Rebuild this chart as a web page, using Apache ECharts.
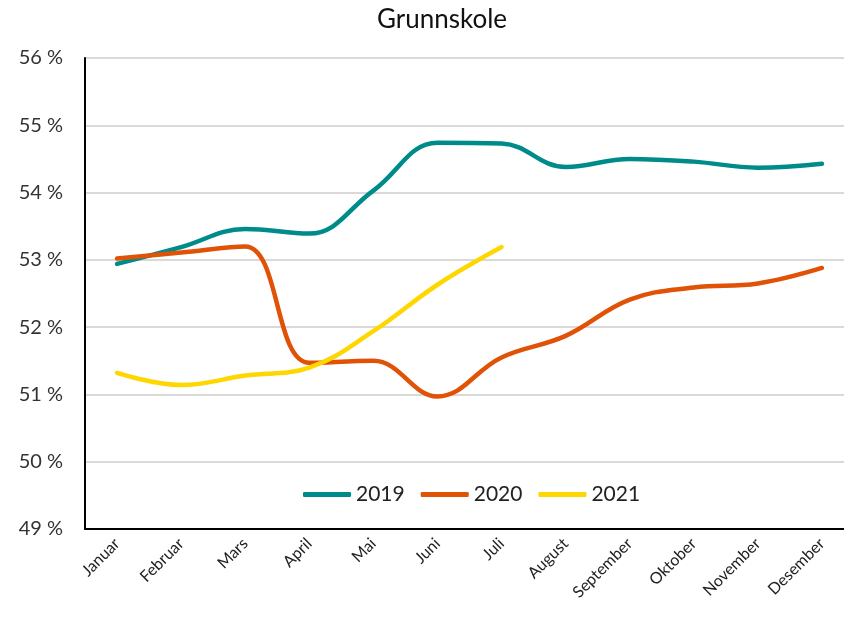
<!DOCTYPE html>
<html><head><meta charset="utf-8">
<script src="https://cdn.jsdelivr.net/npm/echarts@6/dist/echarts.min.js"></script>
<style>html,body{margin:0;padding:0;background:#fff;overflow:hidden;width:844px;height:627px}#c{width:870px;height:627px}</style>
</head><body><div id="c"></div>
<script>
const months = ['Januar','Februar','Mars','April','Mai','Juni','Juli','August','September','Oktober','November','Desember'];
const y2019 = [52.94,53.19,53.46,53.39,54.03,54.74,54.73,54.38,54.50,54.46,54.37,54.43];
const y2020 = [53.02,53.11,53.20,51.47,51.50,50.97,51.55,51.87,52.41,52.59,52.65,52.88];
const y2021 = [51.32,51.14,51.28,51.40,51.94,52.63,53.19];
const yMin = 49, yMax = 56, yStep = 1;

const chart = echarts.init(document.getElementById('c'));
const font = 'Lato, "Open Sans", sans-serif';
function ser(name, data, color){
  return {name, type:'line', data, smooth:0.4, symbol:'none',
    lineStyle:{color, width:4.5, cap:'round'}, itemStyle:{color}};
}
chart.setOption({
  animation:false,
  title:{text:'Grunnskole', left:437, top:2, textAlign:'center',
    textStyle:{fontFamily:font, fontSize:26, fontWeight:'normal', color:'#111'}},
  grid:{left:85, top:58, width:769, height:471},
  legend:{data:['2019','2020','2021'], top:479, left:298, itemWidth:48, itemHeight:5,
    icon:'roundRect', itemGap:16,
    textStyle:{fontFamily:font, fontSize:21, color:'#222'}},
  xAxis:{type:'category', data:months, boundaryGap:true,
    axisLine:{lineStyle:{color:'#000', width:2}}, axisTick:{show:false},
    axisLabel:{rotate:45, fontFamily:font, fontSize:16, color:'#222', interval:0, margin:12}},
  yAxis:{type:'value', min:yMin, max:yMax, interval:yStep,
    axisLine:{show:true, lineStyle:{color:'#000', width:2}}, axisTick:{show:false},
    splitLine:{lineStyle:{color:'#d9d9d9', width:2}},
    axisLabel:{formatter:'{value} %', fontFamily:font, fontSize:20, color:'#333', margin:22}},
  series:[ser('2019', y2019, '#008B8B'), ser('2020', y2020, '#E05206'), ser('2021', y2021, '#FFD700')]
});
</script></body></html>
